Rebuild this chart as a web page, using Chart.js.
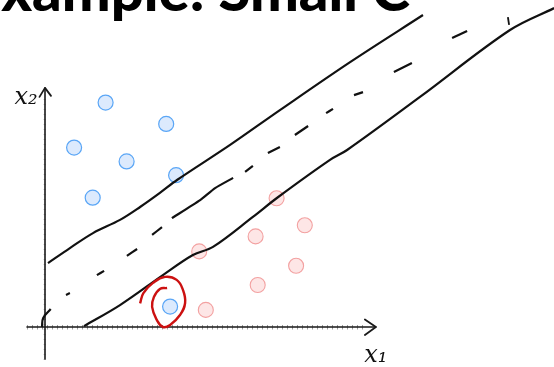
<!DOCTYPE html>
<html>
<head>
<meta charset="utf-8">
<script src="https://cdn.jsdelivr.net/npm/chart.js@4"></script>
<style>
  html, body { margin: 0; padding: 0; background: #fff; }
  #wrap { width: 554px; height: 367px; position: relative; }
</style>
</head>
<body>
<div id="wrap"><canvas id="c"></canvas></div>
<script>
// Feature space (x1, x2); one unit = 30 px, origin where the axes cross.
const classPositive = [
  { x: 2.02, y: 7.48 }, { x: 4.04, y: 6.77 }, { x: 0.97, y: 5.98 },
  { x: 2.72, y: 5.52 }, { x: 4.37, y: 5.06 }, { x: 1.59, y: 4.31 },
  { x: 4.17, y: 0.68 }
];
const classNegative = [
  { x: 7.72, y: 4.29 }, { x: 8.66, y: 3.39 }, { x: 7.02, y: 3.02 },
  { x: 5.14, y: 2.52 }, { x: 8.37, y: 2.04 }, { x: 7.09, y: 1.40 },
  { x: 5.36, y: 0.57 }
];
// Upper and lower margin boundaries (sketched by hand)
const upperMargin = [
  { x: 0.10, y: 2.13 }, { x: 0.83, y: 2.63 }, { x: 1.60, y: 3.13 },
  { x: 2.50, y: 3.57 }, { x: 3.17, y: 4.00 }, { x: 3.83, y: 4.47 },
  { x: 4.40, y: 4.90 }, { x: 6.17, y: 6.07 }, { x: 7.83, y: 7.23 },
  { x: 10.17, y: 8.83 }, { x: 12.60, y: 10.40 }
];
const lowerMargin = [
  { x: 1.30, y: 0.03 }, { x: 2.50, y: 0.73 }, { x: 3.93, y: 1.73 },
  { x: 4.93, y: 2.40 }, { x: 5.60, y: 2.67 }, { x: 6.93, y: 3.67 },
  { x: 7.73, y: 4.30 }, { x: 9.50, y: 5.57 }, { x: 10.07, y: 5.90 },
  { x: 12.50, y: 7.67 }, { x: 15.50, y: 9.90 }, { x: 16.97, y: 10.63 }
];
// Decision boundary, drawn as separate dashes (null breaks the stroke)
const decisionDashes = [
  { x: 0.70, y: 1.07 }, { x: 0.83, y: 1.13 }, null,
  { x: 1.73, y: 1.73 }, { x: 1.97, y: 1.87 }, null,
  { x: 2.73, y: 2.37 }, { x: 3.07, y: 2.60 }, null,
  { x: 3.57, y: 3.07 }, { x: 3.90, y: 3.33 }, null,
  { x: 4.23, y: 3.63 }, { x: 5.17, y: 4.23 }, { x: 5.67, y: 4.63 }, { x: 6.27, y: 4.97 }, null,
  { x: 6.67, y: 5.17 }, { x: 6.93, y: 5.37 }, null,
  { x: 7.43, y: 5.80 }, { x: 7.83, y: 6.00 }, null,
  { x: 8.33, y: 6.40 }, { x: 8.77, y: 6.70 }, null,
  { x: 9.37, y: 7.13 }, { x: 9.60, y: 7.27 }, null,
  { x: 10.30, y: 7.73 }, { x: 10.60, y: 7.83 }, null,
  { x: 11.63, y: 8.50 }, { x: 12.23, y: 8.80 }, null,
  { x: 13.57, y: 9.63 }, { x: 14.07, y: 9.87 }
];
// Small stray pen marks
const originStroke = [ { x: -0.10, y: 0.00 }, { x: -0.06, y: 0.30 }, { x: 0.19, y: 0.60 } ];
const topTick = [ { x: 15.43, y: 10.33 }, { x: 15.47, y: 10.07 } ];
// Red loop around the misclassified point
const outlierLoop = [
  { x: 3.17, y: 0.79 }, { x: 3.28, y: 1.13 }, { x: 3.60, y: 1.47 },
  { x: 4.00, y: 1.67 }, { x: 4.39, y: 1.57 }, { x: 4.60, y: 1.23 },
  { x: 4.67, y: 0.80 }, { x: 4.50, y: 0.40 }, { x: 4.17, y: 0.07 },
  { x: 3.93, y: 0.00 }, { x: 3.73, y: 0.23 }, { x: 3.57, y: 0.67 },
  { x: 3.63, y: 1.00 }, { x: 3.83, y: 1.27 }, { x: 4.07, y: 1.30 }
];
// Axis extents
const x1Axis = { from: -0.6, to: 11.03 };
const x2Axis = { from: -1.07, to: 7.97 };
const titleText = "Example: Small C";
const axisNames = { x: "x\u2081", y: "x\u2082" };

const ink = "#111111";

// A null entry becomes a point with no y value, so the line breaks there.
function withBreaks(points) {
  return points.map((p, i) => p === null ? { x: points[i - 1].x, y: null } : p);
}

function penLine(label, data, opts) {
  return Object.assign({
    type: "line", label, data: withBreaks(data),
    borderColor: ink, borderWidth: 2.2, pointRadius: 0,
    tension: 0.35, fill: false, spanGaps: false, order: 1
  }, opts || {});
}

// Sketched axes with arrowheads, ruler ticks, axis names and title
const sketchPlugin = {
  id: "sketch",
  beforeDatasetsDraw(chart) {
    const ctx = chart.ctx;
    const xs = chart.scales.x, ys = chart.scales.y;
    const ox = xs.getPixelForValue(0), oy = ys.getPixelForValue(0);
    ctx.save();
    // minor ruler ticks
    ctx.strokeStyle = "rgba(60,60,60,0.5)";
    ctx.lineWidth = 1;
    for (let v = x1Axis.from; v <= x1Axis.to - 0.3; v += 1 / 6) {
      const px = Math.round(xs.getPixelForValue(v)) + 0.5;
      ctx.beginPath(); ctx.moveTo(px, oy - 2); ctx.lineTo(px, oy + 2.5); ctx.stroke();
    }
    ctx.strokeStyle = "rgba(60,60,60,0.25)";
    for (let v = x2Axis.from; v <= x2Axis.to - 0.3; v += 1 / 6) {
      const py = Math.round(ys.getPixelForValue(v)) + 0.5;
      ctx.beginPath(); ctx.moveTo(ox - 1.5, py); ctx.lineTo(ox + 1, py); ctx.stroke();
    }
    // axis lines
    ctx.strokeStyle = "#1a1a1a";
    ctx.lineWidth = 1.6;
    ctx.lineCap = "round";
    ctx.lineJoin = "round";
    const xEnd = xs.getPixelForValue(x1Axis.to);
    const yEnd = ys.getPixelForValue(x2Axis.to);
    ctx.beginPath();
    ctx.moveTo(xs.getPixelForValue(x1Axis.from), oy); ctx.lineTo(xEnd, oy);
    ctx.moveTo(ox, ys.getPixelForValue(x2Axis.from)); ctx.lineTo(ox, yEnd);
    ctx.stroke();
    // arrowheads
    ctx.lineWidth = 1.8;
    ctx.beginPath();
    ctx.moveTo(xEnd - 11, oy - 7.5); ctx.lineTo(xEnd, oy); ctx.lineTo(xEnd - 11, oy + 8);
    ctx.moveTo(ox - 5.5, yEnd + 9); ctx.lineTo(ox, yEnd); ctx.lineTo(ox + 6, yEnd + 8);
    ctx.stroke();
    // axis names
    ctx.fillStyle = ink;
    ctx.font = "italic 24px 'DejaVu Serif'";
    ctx.textBaseline = "alphabetic";
    ctx.textAlign = "center";
    ctx.fillText(axisNames.x, xEnd, oy + 35);
    ctx.fillText(axisNames.y, ox - 19, yEnd + 16);
    ctx.restore();
  },
  afterDraw(chart) {
    const ctx = chart.ctx;
    ctx.save();
    ctx.fillStyle = "#000";
    ctx.font = "900 58px Lato";
    ctx.textAlign = "right";
    ctx.textBaseline = "alphabetic";
    ctx.fillText(titleText, 410, 11);
    ctx.restore();
  }
};

new Chart(document.getElementById("c"), {
  type: "scatter",
  data: {
    datasets: [
      penLine("loop", outlierLoop, { borderColor: "#cc1111", borderWidth: 2.4, tension: 0.45, order: 0 }),
      penLine("upper", upperMargin),
      penLine("lower", lowerMargin),
      penLine("boundary", decisionDashes, { tension: 0.2 }),
      penLine("origin", originStroke, { tension: 0.4 }),
      penLine("tick", topTick, { borderWidth: 1.8, tension: 0 }),
      {
        label: "+1", data: classPositive, order: 2,
        pointRadius: 7.5, pointHoverRadius: 7.5, borderWidth: 1.2,
        backgroundColor: "#dceafd", borderColor: "#5aa6f6"
      },
      {
        label: "-1", data: classNegative, order: 2,
        pointRadius: 7.5, pointHoverRadius: 7.5, borderWidth: 1.1,
        backgroundColor: "#fde6e6", borderColor: "#f3a1a1"
      }
    ]
  },
  options: {
    responsive: true,
    maintainAspectRatio: false,
    animation: false,
    layout: { padding: 0, autoPadding: false },
    plugins: { legend: { display: false }, tooltip: { enabled: false }, title: { display: false } },
    scales: {
      x: { type: "linear", display: false, min: -1.5, max: 16.9667 },
      y: { type: "linear", display: false, min: -1.3333, max: 10.9 }
    }
  },
  plugins: [sketchPlugin]
});
</script>
</body>
</html>
